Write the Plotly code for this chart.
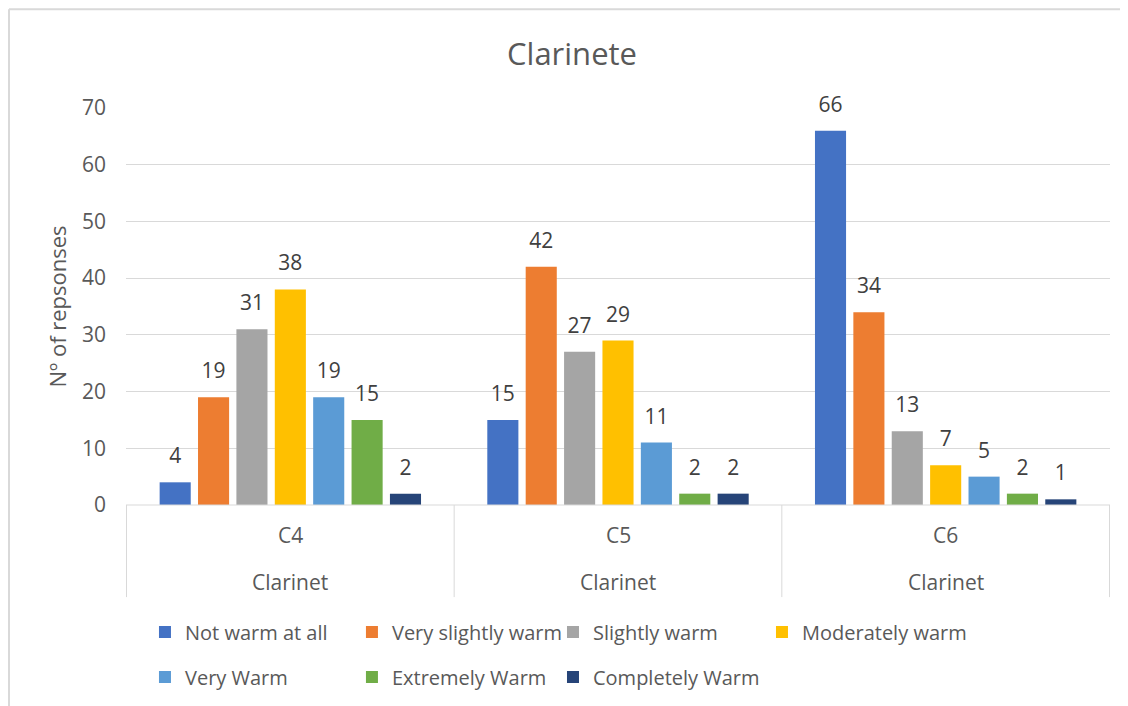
import plotly.graph_objects as go

categories = ["C4", "C5", "C6"]
group_label = "Clarinet"
series_names = [
    "Not warm at all",
    "Very slightly warm",
    "Slightly warm",
    "Moderately warm",
    "Very Warm",
    "Extremely Warm",
    "Completely Warm",
]
values = [
    [4, 15, 66],
    [19, 42, 34],
    [31, 27, 13],
    [38, 29, 7],
    [19, 11, 5],
    [15, 2, 2],
    [2, 2, 1],
]
colors = ["#4472C4", "#ED7D31", "#A5A5A5", "#FFC000", "#5B9BD5", "#70AD47", "#264478"]

FONT = "'Open Sans', Lato, sans-serif"
TXT = "#595959"

# one legend box per entry so the columns sit where Excel put them
legend_cols = [0.1223, 0.3071, 0.4866, 0.6732]
legend_rows = [0.106, 0.0415]
legend_ids = ["legend"] + [f"legend{k}" for k in range(2, len(series_names) + 1)]

fig = go.Figure()
for i, (name, vals, col) in enumerate(zip(series_names, values, colors)):
    fig.add_trace(go.Bar(
        x=categories,
        y=vals,
        name=name,
        legend=legend_ids[i],
        showlegend=True,
        marker=dict(color=col, line=dict(width=0)),
        # small second line lifts the label a little above the bar, like Excel
        text=[f"<span style='font-size:21px'>{v}</span><br> " for v in vals],
        textposition="outside",
        textfont=dict(size=10, color="#404040", family=FONT),
        cliponaxis=False,
    ))

# category "table" below the plot
for i in range(len(categories) + 1):
    fig.add_shape(type="line", xref="x", yref="paper",
                  x0=i - 0.5, x1=i - 0.5, y0=0, y1=-0.232,
                  line=dict(color="#D9D9D9", width=1))
fig.add_shape(type="line", xref="paper", yref="paper", x0=0, x1=1, y0=0, y1=0,
              line=dict(color="#D9D9D9", width=1))
for c in categories:
    fig.add_annotation(x=c, xref="x", y=-0.0756, yref="paper", yanchor="middle", text=c,
                       showarrow=False, font=dict(size=21, color=TXT, family=FONT))
    fig.add_annotation(x=c, xref="x", y=-0.193, yref="paper", yanchor="middle", text=group_label,
                       showarrow=False, font=dict(size=21, color=TXT, family=FONT))

# chart border (top and left edge)
fig.add_shape(type="line", xref="paper", yref="paper", x0=-0.1189, x1=1.03, y0=1.249, y1=1.249,
              line=dict(color="#D9D9D9", width=2))
fig.add_shape(type="line", xref="paper", yref="paper", x0=-0.1189, x1=-0.1189, y0=1.249, y1=-0.52,
              line=dict(color="#D9D9D9", width=2))

legend_style = dict(
    orientation="h",
    xref="container", yref="container",
    xanchor="left",
    yanchor="middle",
    font=dict(size=20, color=TXT, family=FONT),
    itemwidth=30,
    bgcolor="rgba(0,0,0,0)",
)
legends = {}
for i, lid in enumerate(legend_ids):
    legends[lid] = dict(x=legend_cols[i % 4], y=legend_rows[i // 4], **legend_style)

fig.update_layout(
    width=1120,
    height=698,
    title=dict(text="Clarinete", x=0.5036, xanchor="center", y=0.934, yanchor="middle",
               font=dict(size=31, color=TXT, family=FONT)),
    barmode="group",
    bargap=0.18,
    bargroupgap=0.19,
    plot_bgcolor="white",
    paper_bgcolor="white",
    margin=dict(t=100, b=201, l=118, r=18),
    font=dict(family=FONT, color=TXT),
    showlegend=True,
    **legends,
)
fig.update_xaxes(showticklabels=False, showgrid=False, zeroline=False, showline=False, ticks="")
fig.update_yaxes(
    range=[0, 70], dtick=10, showgrid=True, gridcolor="#D9D9D9", gridwidth=1,
    zeroline=False, showline=False, ticks="",
    tickfont=dict(size=21, color=TXT, family=FONT), ticklabelstandoff=19,
    title=dict(text="Nº of repsonses", font=dict(size=22, color=TXT, family=FONT), standoff=9),
)

fig.write_html("out.html")
